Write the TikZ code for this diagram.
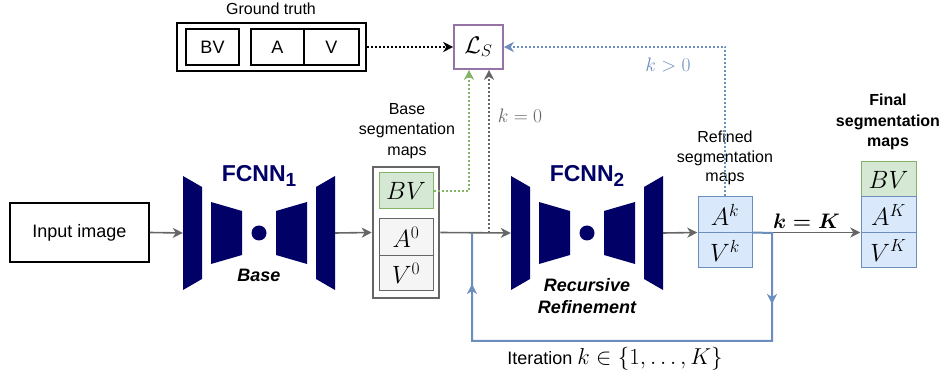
\RequirePackage{fix-cm}
\documentclass[tikz,border=0pt]{standalone}
\usepackage{amsmath,amssymb,bm}
\usepackage[no-math]{fontspec}
\setmainfont{Liberation Sans}
\usetikzlibrary{arrows.meta,fit,calc}
\definecolor{navy}{HTML}{000066}
\definecolor{lgray}{HTML}{666666}
\definecolor{bline}{HTML}{6C8EBF}
\definecolor{bfill}{HTML}{DAE8FC}
\definecolor{gfill}{HTML}{D5E8D4}
\definecolor{gline}{HTML}{82B366}
\definecolor{cfill}{HTML}{F5F5F5}
\definecolor{purp}{HTML}{9673A6}
\begin{document}
\begin{tikzpicture}[x=1pt,y=-1pt,
  cell/.style={draw, line width=1pt, inner sep=0pt, font=\fontsize{25}{25}\selectfont},
  gtcell/.style={draw=black, line width=1.2pt, inner sep=0pt, minimum height=36pt, font=\fontsize{18}{18}\selectfont},
  greencell/.style={cell, draw=gline, fill=gfill, minimum width=54pt, minimum height=36pt},
  graycell/.style={cell, draw=lgray, fill=cfill, minimum width=54pt, minimum height=36pt},
  bluecell/.style={cell, draw=bline, fill=bfill, minimum width=54pt, minimum height=36pt},
  lbl/.style={align=center, font=\fontsize{16}{20.5}\selectfont},
  tip/.style={-{Stealth[length=10pt,width=10pt,inset=3pt]}},
  flow/.style={draw=lgray, line width=1.6pt, tip},
  dots/.style={line width=2pt, dash pattern=on 2pt off 2pt, tip},
  netlbl/.style={text=navy, font=\bfseries\fontsize{23}{23}\selectfont},
  fcnn/.pic={
    \fill[navy] (-76,-57) -- (-57,-46) -- (-57,46) -- (-76,57) -- cycle;
    \fill[navy] (-48,-31) -- (-17,-22) -- (-17,22) -- (-48,31) -- cycle;
    \fill[navy] (0,0) circle (7.5);
    \fill[navy] (48,-31) -- (17,-22) -- (17,22) -- (48,31) -- cycle;
    \fill[navy] (76,-57) -- (57,-46) -- (57,46) -- (76,57) -- cycle;
  }
]
\useasboundingbox (0,0) rectangle (946,379);

% input
\node[draw, line width=1.6pt, minimum width=139pt, minimum height=59pt, inner sep=0pt,
      font=\fontsize{18}{18}\selectfont] (input) at (79.5,232.5) {Input image};

% ground truth
\node[font=\fontsize{16}{16}\selectfont] (gtl) at (271,9) {Ground truth};
\node[draw, line width=2.4pt, minimum width=189pt, minimum height=48pt, inner sep=0pt] (gt) at (271.5,47) {};
\node[gtcell, minimum width=53pt] (gbv) at (212.5,47) {BV};
\node[gtcell, minimum width=53pt] (ga) at (277.5,47) {A};
\node[gtcell, minimum width=55pt] (gv) at (331.5,47) {V};

% loss
\node[draw=purp, line width=1.6pt, minimum width=49pt, minimum height=44pt, inner sep=0pt,
      font=\fontsize{24}{24}\selectfont] (ls) at (478.5,47) {$\mathcal{L}_S$};

% FCNN1
\pic at (259,233) {fcnn};
\node[minimum width=152pt, minimum height=114pt, inner sep=0pt] (f1) at (259,233) {};
\node[netlbl] (f1l) at (259,176) {FCNN\raisebox{-5.5pt}{\fontsize{19}{19}\selectfont 1}};
\node[font=\bfseries\itshape\fontsize{18}{18}\selectfont] (f1b) at (259,275) {Base};

% base segmentation
\node[lbl] (basel) at (407,131) {Base\\segmentation\\maps};
\node[draw=lgray, line width=2.6pt, minimum width=66pt, minimum height=131pt, inner sep=0pt] (base) at (406,232.5) {};
\node[greencell] (bbv) at (406,191) {$BV$};
\node[graycell, minimum height=37pt] (a0) at (406,237.5) {$A^0$};
\node[graycell, minimum height=35pt] (v0) at (406,273.5) {$V^0$};

% FCNN2
\pic at (587,233) {fcnn};
\node[minimum width=152pt, minimum height=114pt, inner sep=0pt] (f2) at (587,233) {};
\node[netlbl] (f2l) at (587,176) {FCNN\raisebox{-5.5pt}{\fontsize{19}{19}\selectfont 2}};
\node[align=center, font=\bfseries\itshape\fontsize{18}{22}\selectfont] (f2b) at (587,296) {Recursive\\Refinement};

% refined
\node[lbl, font=\fontsize{16}{19.5}\selectfont] (refl) at (725,158) {Refined\\segmentation\\maps};
\node[bluecell] (ak) at (725,215) {$A^k$};
\node[bluecell, minimum height=35pt] (vk) at (725,250.5) {$V^k$};
\node[fit=(ak)(vk), inner sep=0pt] (ref) {};

% final
\node[lbl, font=\bfseries\fontsize{16}{20.5}\selectfont] (finl) at (888,122) {Final\\segmentation\\maps};
\node[greencell, minimum width=55pt] (fbv) at (888.5,180) {$BV$};
\node[bluecell, minimum width=55pt] (fak) at (888.5,215) {$A^K$};
\node[bluecell, minimum width=55pt, minimum height=35pt] (fvk) at (888.5,250.5) {$V^K$};
\node[fit=(fak)(fvk), inner sep=0pt] (fin) {};

% main flow
\draw[flow] (input.east) -- (f1.west);
\draw[flow] (f1.east) -- (base.west);
\draw[flow] (base.east) -- (f2.west);
\draw[flow] (f2.east) -- (ref.west);
\draw[flow] (ref.east) -- node[above=0pt, font=\fontsize{21}{21}\selectfont\boldmath] (kK) {$k=K$} (fin.west);

% loss connections
\draw[dots, draw=black] (gt.east) -- (ls.west);
\draw[dots, draw=gline] (bbv.east) -| ([xshift=-9.5pt]ls.south);
\coordinate (k0) at (489,233);
\draw[dots, draw=lgray] (k0) -- ([xshift=10.5pt]ls.south);
\node[text=lgray, font=\fontsize{19.5}{19.5}\selectfont] (k0l) at (520,116) {$k=0$};
\draw[dots, draw=bline] (ak.north) |- (ls.east);
\node[text=bline, font=\fontsize{19.5}{19.5}\selectfont] (kgl) at (668,65) {$k>0$};

% iteration loop
\coordinate (r1) at (772,233);
\coordinate (r2) at (772,341);
\coordinate (l2) at (472,341);
\coordinate (l1) at (472,233);
\coordinate (ra) at (772,290);
\coordinate (rb) at (772,304);
\coordinate (la) at (472,298);
\coordinate (lb) at (472,284);
\draw[draw=bline, line width=2pt] (ref.east) -- (r1) -- (r2) -- (l2) -- (l1);
\draw[draw=bline, line width=2pt, -{Stealth[length=10pt,width=10pt,inset=3pt]}] (ra) -- (rb);
\draw[draw=bline, line width=2pt, -{Stealth[length=10pt,width=10pt,inset=3pt]}] (la) -- (lb);
\node[font=\fontsize{18}{18}\selectfont] (itl) at (615,359) {Iteration {\fontsize{23}{23}\selectfont$k\in\{1,\ldots,K\}$}};
\end{tikzpicture}
\end{document}
